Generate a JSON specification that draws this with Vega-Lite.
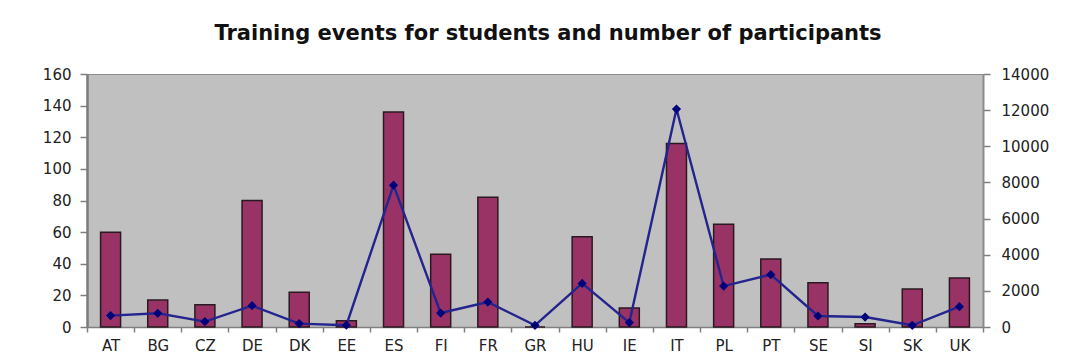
{
  "$schema": "https://vega.github.io/schema/vega-lite/v6.json",
  "width": 896,
  "height": 253,
  "autosize": {"type": "none"},
  "padding": {"left": 87, "top": 74, "right": 87, "bottom": 31},
  "background": "white",
  "title": {
    "text": "Training events for students and number of participants",
    "font": "DejaVu Sans",
    "fontSize": 21,
    "fontWeight": "bold",
    "color": "#111111",
    "anchor": "middle",
    "offset": 23,
    "dx": 13
  },
  "data": {
    "values": [
      {"country": "AT", "events": 60, "participants": 630},
      {"country": "BG", "events": 17, "participants": 757},
      {"country": "CZ", "events": 14, "participants": 298},
      {"country": "DE", "events": 80, "participants": 1180},
      {"country": "DK", "events": 22, "participants": 188},
      {"country": "EE", "events": 4, "participants": 100},
      {"country": "ES", "events": 136, "participants": 7850},
      {"country": "FI", "events": 46, "participants": 773},
      {"country": "FR", "events": 82, "participants": 1380},
      {"country": "GR", "events": 0, "participants": 90},
      {"country": "HU", "events": 57, "participants": 2410},
      {"country": "IE", "events": 12, "participants": 243},
      {"country": "IT", "events": 116, "participants": 12060},
      {"country": "PL", "events": 65, "participants": 2265},
      {"country": "PT", "events": 43, "participants": 2895},
      {"country": "SE", "events": 28, "participants": 608},
      {"country": "SI", "events": 2, "participants": 552},
      {"country": "SK", "events": 24, "participants": 94},
      {"country": "UK", "events": 31, "participants": 1127}
    ]
  },
  "encoding": {
    "x": {
      "field": "country",
      "type": "nominal",
      "sort": null,
      "scale": {"paddingInner": 0, "paddingOuter": 0},
      "axis": {
        "title": null,
        "labelAngle": 0,
        "tickBand": "extent",
        "tickSize": 5,
        "labelPadding": 6,
        "labelFontSize": 15,
        "domainColor": "#808080",
        "domainWidth": 1.5,
        "tickColor": "#808080",
        "tickWidth": 1.5
      }
    }
  },
  "layer": [
    {
      "mark": {"type": "bar", "width": 20, "color": "#993366", "stroke": "#2a1a20", "strokeWidth": 1.5},
      "encoding": {
        "y": {
          "field": "events",
          "type": "quantitative",
          "scale": {"domain": [0, 160]},
          "axis": {
            "orient": "left",
            "title": null,
            "values": [0, 20, 40, 60, 80, 100, 120, 140, 160],
            "format": "d",
            "tickSize": 7,
            "labelPadding": 9,
            "domainColor": "#7a7a7a",
            "domainWidth": 2.5,
            "tickColor": "#808080",
            "tickWidth": 1.5
          }
        }
      }
    },
    {
      "encoding": {
        "y": {
          "field": "participants",
          "type": "quantitative",
          "scale": {"domain": [0, 14000]},
          "axis": {
            "orient": "right",
            "title": null,
            "values": [0, 2000, 4000, 6000, 8000, 10000, 12000, 14000],
            "format": "d",
            "tickSize": 7,
            "labelPadding": 11,
            "domainColor": "#8a8a8a",
            "domainWidth": 2,
            "tickColor": "#808080",
            "tickWidth": 1.5
          }
        }
      },
      "layer": [
        {"mark": {"type": "line", "color": "#24248f", "strokeWidth": 2.4}},
        {"mark": {"type": "point", "shape": "diamond", "filled": true, "color": "#00007a", "size": 85, "opacity": 1}}
      ]
    }
  ],
  "resolve": {"scale": {"y": "independent"}},
  "config": {
    "view": {"fill": "#c0c0c0", "stroke": "#8c8c8c", "strokeWidth": 1},
    "axis": {
      "grid": false,
      "labelFont": "DejaVu Sans",
      "labelFontSize": 15,
      "labelColor": "#222222"
    }
  }
}
